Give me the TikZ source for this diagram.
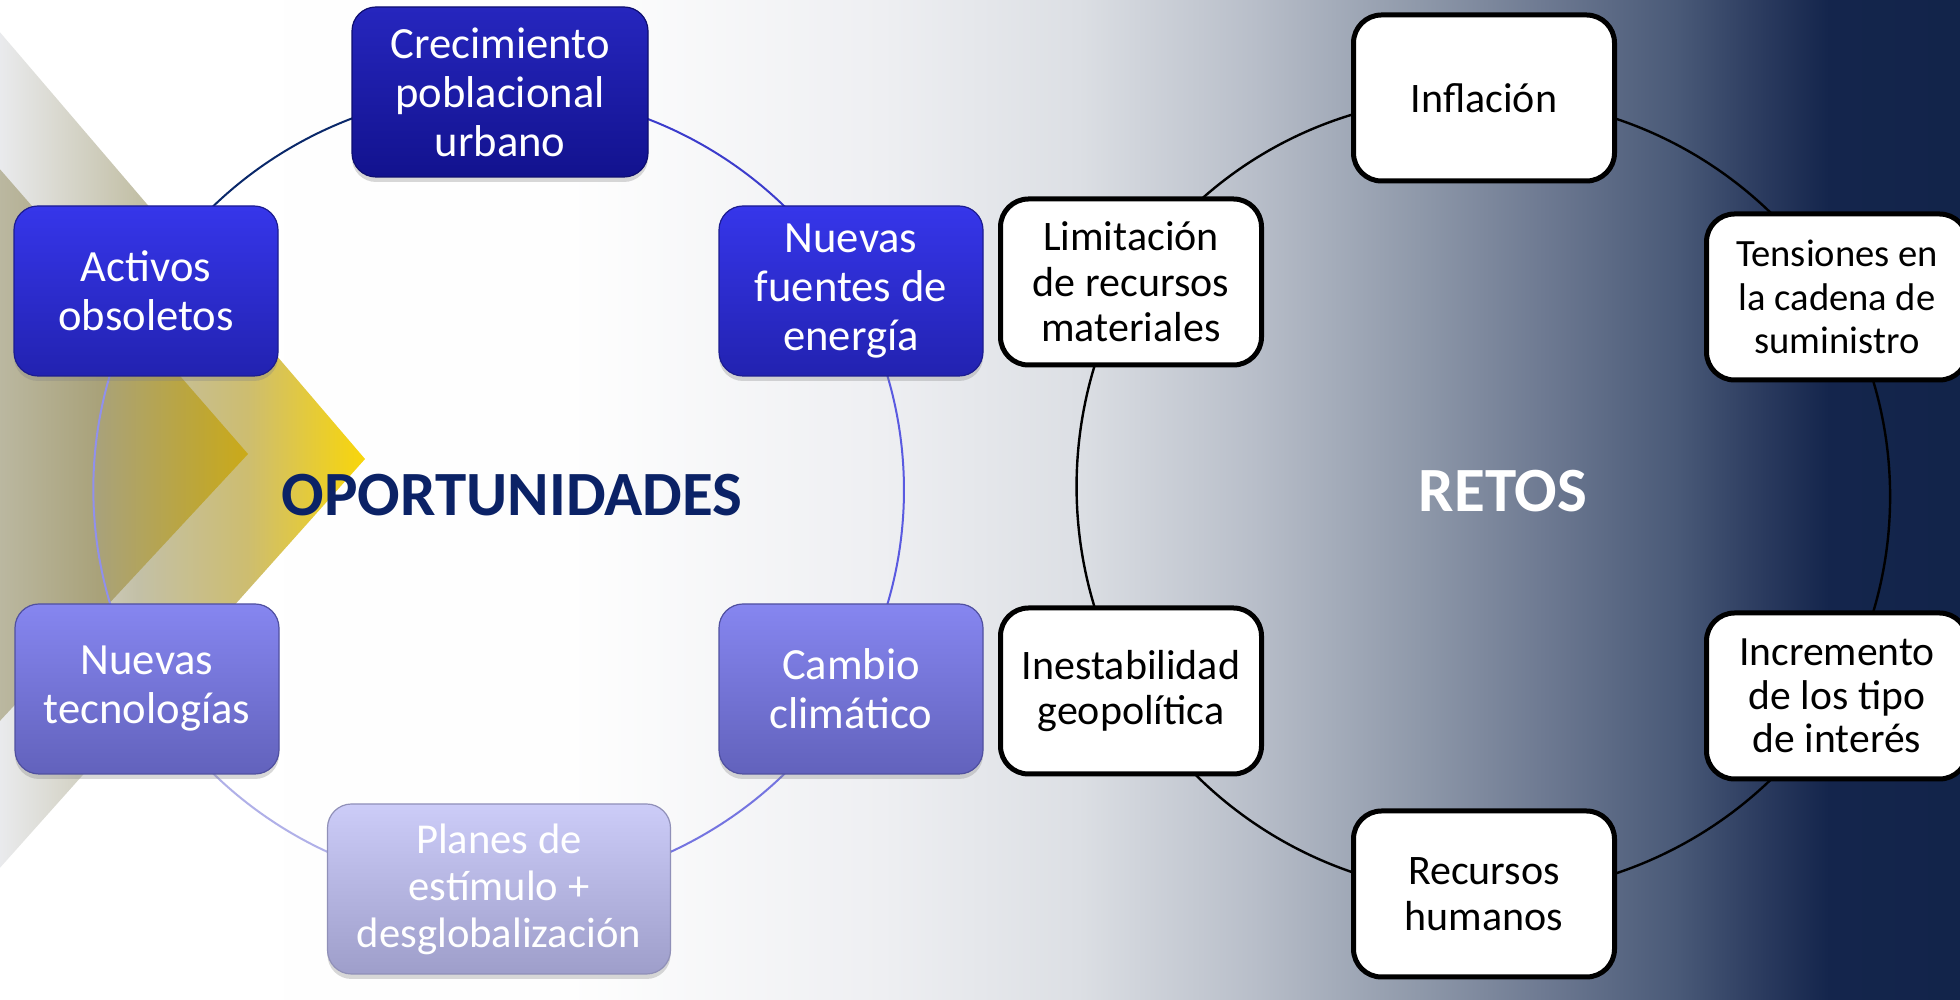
\documentclass[tikz,border=0pt]{standalone}
\usepackage{fontspec}
\setmainfont{Carlito}
\usetikzlibrary{shadows}

% slide colours
\definecolor{navytitle}{HTML}{0B2266}
\definecolor{bgA}{HTML}{FEFEFE}
\definecolor{bgB}{HTML}{EEEFF2}
\definecolor{bgC}{HTML}{DCDFE4}
\definecolor{bgD}{HTML}{B8BEC9}
\definecolor{bgE}{HTML}{8F99AA}
\definecolor{bgF}{HTML}{6E7A92}
\definecolor{bgG}{HTML}{4A5A78}
\definecolor{bgH}{HTML}{2A3A5E}
\definecolor{bgI}{HTML}{14254C}
\definecolor{bgJ}{HTML}{12244A}
\definecolor{chevA}{HTML}{EAEBEE}
\definecolor{chevB}{HTML}{C3C0A7}
\definecolor{chevC}{HTML}{CDBD70}
\definecolor{chevD}{HTML}{F9D60A}
\definecolor{chevE}{HTML}{BBB8A1}
\definecolor{chevF}{HTML}{A9A27A}
\definecolor{chevG}{HTML}{BDA637}
\definecolor{chevH}{HTML}{CBAA18}

\pgfdeclarehorizontalshading{slidebg}{100bp}{color(0bp)=(white); color(25bp)=(white);
  color(39.5bp)=(bgA); color(47.5bp)=(bgB); color(52.5bp)=(bgC); color(57bp)=(bgD);
  color(61.15bp)=(bgE); color(64.35bp)=(bgF); color(67.75bp)=(bgG); color(70bp)=(bgH);
  color(71.65bp)=(bgI); color(75bp)=(bgJ); color(100bp)=(bgJ)}
\pgfdeclarehorizontalshading{chevouter}{100bp}{color(0bp)=(chevA); color(25bp)=(chevA);
  color(44bp)=(chevB); color(59bp)=(chevC); color(75bp)=(chevD); color(100bp)=(chevD)}
\pgfdeclarehorizontalshading{chevinner}{100bp}{color(0bp)=(chevE); color(25bp)=(chevE);
  color(45bp)=(chevF); color(65bp)=(chevG); color(75bp)=(chevH); color(100bp)=(chevH)}

\pgfdeclarelayer{backdrop}
\pgfdeclarelayer{rings}
\pgfsetlayers{backdrop,rings,main}

\tikzset{
  opbox/.style={rounded corners=12pt, draw, line width=0.6pt, text=white, align=center,
    font=\fontsize{22.3}{24.5}\selectfont, inner sep=2pt,
    minimum width=132pt, minimum height=85pt,
    drop shadow={shadow xshift=0pt, shadow yshift=-2.5pt, opacity=0.3}},
  opdark/.style={opbox, top color={rgb,255:red,38;green,38;blue,190}, bottom color={rgb,255:red,18;green,18;blue,142}, draw={rgb,255:red,14;green,14;blue,112}},
  opmid/.style={opbox, top color={rgb,255:red,54;green,54;blue,234}, bottom color={rgb,255:red,34;green,34;blue,176}, draw={rgb,255:red,28;green,28;blue,144}},
  oplight/.style={opbox, top color={rgb,255:red,134;green,134;blue,240}, bottom color={rgb,255:red,98;green,98;blue,188}, draw={rgb,255:red,80;green,80;blue,160}},
  oppale/.style={opbox, top color={rgb,255:red,204;green,204;blue,248}, bottom color={rgb,255:red,158;green,158;blue,202}, draw={rgb,255:red,144;green,144;blue,184}},
  retobox/.style={rounded corners=14pt, draw=black, line width=2.5pt, fill=white, align=center,
    font=\fontsize{21}{22.8}\selectfont, inner sep=2pt,
    minimum width=130.5pt, minimum height=83pt},
  ring/.style={line width=1pt, bend left=30, looseness=0.91},
  title/.style={font=\fontsize{31.5}{36}\selectfont\bfseries}
}

\begin{document}
\begin{tikzpicture}[x=0.5pt, y=0.5pt]
  \useasboundingbox (0,0) rectangle (1960,1000);

  % background and chevrons
  \begin{pgfonlayer}{backdrop}
    \shade[shading=slidebg] (0,0) rectangle (1960,1000);
    \shade[shading=chevouter] (-2,970) -- (365,541) -- (-2,130) -- cycle;
    \shade[shading=chevinner] (-2,833) -- (248,546) -- (-2,277) -- cycle;
  \end{pgfonlayer}

  % oportunidades
  \node[opdark, minimum width=148pt] (crece) at (500,908) {Crecimiento\\poblacional\\urbano};
  \node[opmid] (fuentes) at (851,709) {Nuevas\\fuentes de\\energía};
  \node[oplight] (clima) at (851,311) {Cambio\\climático};
  \node[oppale, minimum width=171.5pt, font=\fontsize{21.3}{23.5}\selectfont]
    (planes) at (499,111) {Planes de\\estímulo +\\desglobalización};
  \node[oplight] (tecno) at (147,311) {Nuevas\\tecnologías};
  \node[opmid] (activos) at (146,709) {Activos\\obsoletos};
  \node[title, text=navytitle] (optitle) at (512,505) {OPORTUNIDADES};

  % retos
  \node[retobox] (inflacion) at (1484,902) {Inflación};
  \node[retobox, font=\fontsize{19.3}{21.7}\selectfont] (tension) at (1837,703) {Tensiones en\\la cadena de\\suministro};
  \node[retobox, font=\fontsize{20.8}{21.6}\selectfont] (interes) at (1837,304) {Incremento\\de los tipo\\de interés};
  \node[retobox] (rrhh) at (1484,106) {Recursos\\humanos};
  \node[retobox] (geopol) at (1131,309) {Inestabilidad\\geopolítica};
  \node[retobox] (limita) at (1131,718) {Limitación\\de recursos\\materiales};
  \node[title, text=white] (retotitle) at (1503,509) {RETOS};

  % cycle arcs
  \begin{pgfonlayer}{rings}
    \draw[ring, draw={rgb,255:red,10;green,40;blue,106}] (activos.center) to (crece.center);
    \draw[ring, draw={rgb,255:red,60;green,60;blue,204}] (crece.center) to (fuentes.center);
    \draw[ring, draw={rgb,255:red,90;green,90;blue,224}] (fuentes.center) to (clima.center);
    \draw[ring, draw={rgb,255:red,116;green,116;blue,224}] (clima.center) to (planes.center);
    \draw[ring, draw={rgb,255:red,176;green,176;blue,232}] (planes.center) to (tecno.center);
    \draw[ring, draw={rgb,255:red,144;green,144;blue,236}] (tecno.center) to (activos.center);

    \draw[ring, line width=1.2pt] (inflacion.center) to (tension.center);
    \draw[ring, line width=1.2pt] (tension.center) to (interes.center);
    \draw[ring, line width=1.2pt] (interes.center) to (rrhh.center);
    \draw[ring, line width=1.2pt] (rrhh.center) to (geopol.center);
    \draw[ring, line width=1.2pt] (geopol.center) to (limita.center);
    \draw[ring, line width=1.2pt] (limita.center) to (inflacion.center);
  \end{pgfonlayer}
\end{tikzpicture}
\end{document}
